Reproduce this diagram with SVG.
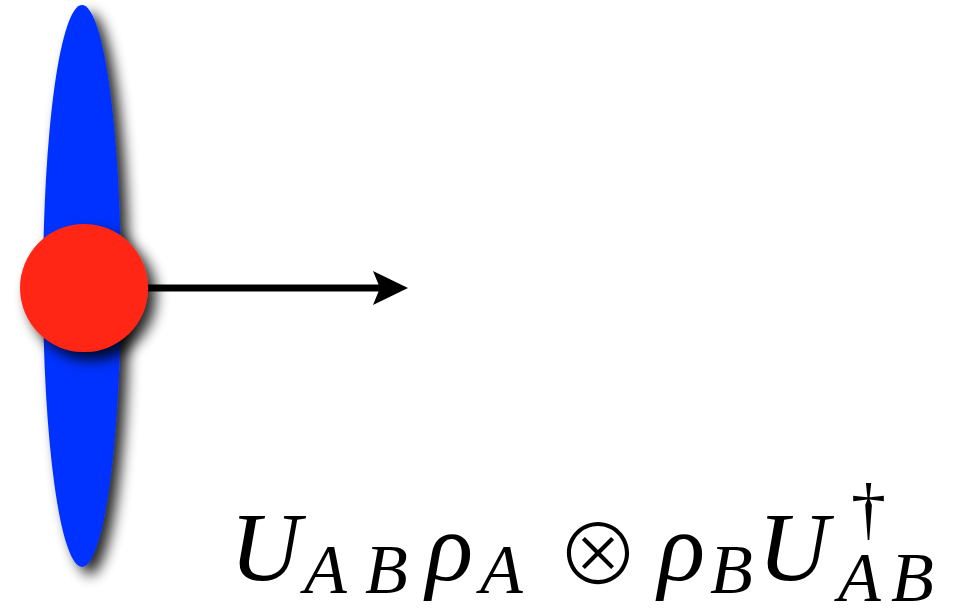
<svg xmlns="http://www.w3.org/2000/svg" width="979" height="612" viewBox="0 0 979 612">
  <style>
    .m { font-family: "Liberation Serif", "Times New Roman", serif; font-style: italic; fill: #000; }
    .big { font-size: 98px; }
    .sub { font-size: 70px; }
    .op { font-family: "Noto Sans CJK JP", "DejaVu Sans", sans-serif; font-weight: 300; font-size: 84px; font-style: normal; fill: #000; }
    .dag { font-family: "Liberation Serif", "Times New Roman", serif; font-style: normal; font-size: 70px; fill: #000; }
  </style>
  <defs>
    <filter id="shadow" x="-60%" y="-20%" width="220%" height="140%">
      <feGaussianBlur in="SourceAlpha" stdDeviation="7"/>
      <feOffset dx="8" dy="8" result="b"/>
      <feComponentTransfer><feFuncA type="linear" slope="0.85"/></feComponentTransfer>
      <feMerge><feMergeNode/><feMergeNode in="SourceGraphic"/></feMerge>
    </filter>
  </defs>
  <rect width="979" height="612" fill="#fff"/>
  <g id="ellipse-node" filter="url(#shadow)">
    <ellipse cx="82" cy="286" rx="39" ry="281" fill="#0433FF"/>
  </g>
  <g id="connectors">
    <line x1="146" y1="288" x2="382" y2="288" stroke="#000" stroke-width="7"/>
    <path d="M373,271 L408,288 L373,305 L380,288 Z" fill="#000"/>
  </g>
  <g id="circle-node" filter="url(#shadow)">
    <circle cx="84" cy="288" r="64" fill="#FF2713"/>
  </g>
  <g id="formula">
    <text class="m big" x="230" y="580">U</text>
    <text class="m sub" y="593"><tspan x="304">A</tspan><tspan x="365">B</tspan></text>
    <text class="m big" x="426" y="580">ρ</text>
    <text class="m sub" x="480" y="593">A</text>
    <text class="op" x="556" y="585">⊗</text>
    <text class="m big" x="658" y="580">ρ</text>
    <text class="m sub" x="710" y="593">B</text>
    <text class="m big" x="758" y="580">U</text>
    <text class="dag" x="851" y="532">†</text>
    <text class="m sub" y="601"><tspan x="838">A</tspan><tspan x="891">B</tspan></text>
  </g>
</svg>
